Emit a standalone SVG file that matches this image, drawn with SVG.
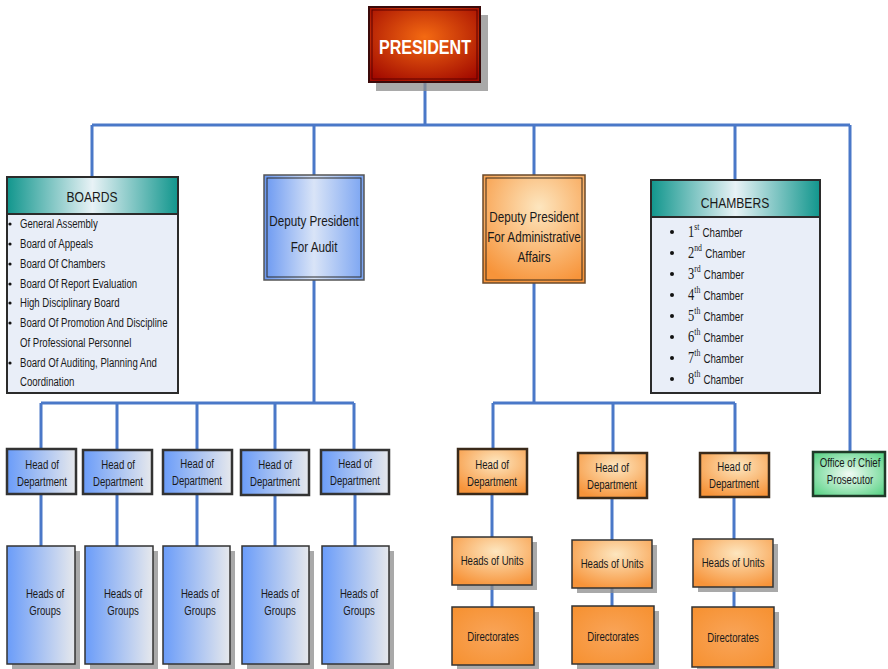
<svg xmlns="http://www.w3.org/2000/svg" width="888" height="669" viewBox="0 0 888 669">
<style>
text{font-family:"Liberation Sans",Arial,sans-serif;fill:#1a1a1a}
.c{text-anchor:middle;transform-box:fill-box;transform-origin:center;transform:scaleX(.78)}
.l{transform-box:fill-box;transform-origin:left center;transform:scaleX(.78)}
.conn{stroke:#4a78c8;stroke-width:3;fill:none}
.sh{fill:#8c8c8c;opacity:.75}
.bd{stroke:#2b2b2b;stroke-width:2}
.lst{font-size:12.3px}
.hd{font-size:12.3px}
.ser{font-family:"Liberation Serif","Times New Roman",serif}
</style>
<defs>
<linearGradient id="gBlue" x1="0" x2="1" y1="0" y2="0"><stop offset="0" stop-color="#6a9cf9"/><stop offset="1" stop-color="#e6e8ec"/></linearGradient>
<linearGradient id="gBlueD" x1="0" x2="1" y1="0" y2="0"><stop offset="0" stop-color="#6a98f2"/><stop offset=".5" stop-color="#d9e4f7"/><stop offset="1" stop-color="#7aa4f2"/></linearGradient>
<linearGradient id="gTeal" x1="0" x2="1" y1="0" y2="0"><stop offset="0" stop-color="#11968d"/><stop offset=".5" stop-color="#e8f2f6"/><stop offset="1" stop-color="#11968d"/></linearGradient>
<radialGradient id="gOr" cx=".55" cy=".3" r=".75"><stop offset="0" stop-color="#fde6bf"/><stop offset="1" stop-color="#f7943a"/></radialGradient>
<radialGradient id="gOr2" cx=".5" cy=".5" r=".7"><stop offset="0" stop-color="#f9a55a"/><stop offset="1" stop-color="#f6902f"/></radialGradient>
<radialGradient id="gRed" cx=".5" cy=".4" r=".7"><stop offset="0" stop-color="#f46a12"/><stop offset="1" stop-color="#a20a00"/></radialGradient>
<radialGradient id="gGreen" cx=".5" cy=".5" r=".7"><stop offset="0" stop-color="#f2fbf5"/><stop offset="1" stop-color="#4fd07e"/></radialGradient>
</defs>

<g id="connectors">
<path class="conn" d="M425 82V125M92 125H850M92 125V177M314 125V175M534 125V175M735 125V180M850 125V452"/>
<path class="conn" d="M314 280V403M41 403H354M41 403V449M117 403V449M197 403V449M275 403V449M354 403V449"/>
<path class="conn" d="M41 494V546M117 494V546M197 494V546M275 494V546M355 494V546"/>
<path class="conn" d="M534 283V403M493 403H735M493 403V449M613 403V453M735 403V453"/>
<path class="conn" d="M492 494V537M612 498V540M734 497V539M492 585V607M612 588V606M734 587V607"/>
</g>

<g id="president">
<rect class="sh" x="376" y="15" width="112" height="76"/>
<rect x="369" y="7" width="111" height="75" fill="url(#gRed)" stroke="#3a0a0a" stroke-width="2"/>
<rect x="372" y="10" width="105" height="69" fill="none" stroke="#5a0000" stroke-width="1"/>
<text x="425" y="54" text-anchor="middle" font-size="21" font-weight="bold" style="fill:#fff" textLength="92" lengthAdjust="spacingAndGlyphs">PRESIDENT</text>
</g>

<g id="boards">
<rect x="7" y="177" width="171" height="216" fill="#e9eef8" class="bd"/>
<rect x="7" y="177" width="171" height="37" fill="url(#gTeal)" class="bd"/>
<text class="c" x="92" y="202" font-size="15.5">BOARDS</text>
<g fill="#111">
<circle cx="10" cy="224" r="1.6"/><circle cx="10" cy="244" r="1.6"/><circle cx="10" cy="264" r="1.6"/><circle cx="10" cy="284" r="1.6"/><circle cx="10" cy="303" r="1.6"/><circle cx="10" cy="323" r="1.6"/><circle cx="10" cy="363" r="1.6"/>
</g>
<text class="lst l" x="20" y="228">General Assembly</text>
<text class="lst l" x="20" y="248">Board of Appeals</text>
<text class="lst l" x="20" y="268">Board Of Chambers</text>
<text class="lst l" x="20" y="288">Board Of Report Evaluation</text>
<text class="lst l" x="20" y="307">High Disciplinary Board</text>
<text class="lst l" x="20" y="327">Board Of Promotion And Discipline</text>
<text class="lst l" x="20" y="347">Of Professional Personnel</text>
<text class="lst l" x="20" y="367">Board Of Auditing, Planning And</text>
<text class="lst l" x="20" y="386">Coordination</text>
</g>

<g id="deputy-audit">
<rect x="264" y="175" width="100" height="105" fill="url(#gBlueD)" stroke="#555" stroke-width="1.5"/>
<rect x="267" y="178" width="94" height="99" fill="none" stroke="#2b2b2b" stroke-width="1"/>
<text class="c" x="314" y="226" font-size="15">Deputy President</text>
<text class="c" x="314" y="252" font-size="15">For Audit</text>
</g>

<g id="deputy-admin">
<rect x="483" y="175" width="102" height="108" fill="url(#gOr)" stroke="#6b4a2a" stroke-width="1.5"/>
<rect x="486" y="178" width="96" height="102" fill="none" stroke="#3a2a1a" stroke-width="1"/>
<text class="c" x="534" y="222" font-size="15">Deputy President</text>
<text class="c" x="534" y="242" font-size="15">For Administrative</text>
<text class="c" x="534" y="262" font-size="15">Affairs</text>
</g>

<g id="chambers">
<rect x="651" y="180" width="169" height="213" fill="#e9eef8" class="bd"/>
<rect x="651" y="180" width="169" height="37" fill="url(#gTeal)" class="bd"/>
<text class="c" x="735" y="208" font-size="15.5">CHAMBERS</text>
<g fill="#111">
<circle cx="672" cy="232" r="2"/><circle cx="672" cy="253" r="2"/><circle cx="672" cy="274" r="2"/><circle cx="672" cy="295" r="2"/><circle cx="672" cy="316" r="2"/><circle cx="672" cy="337" r="2"/><circle cx="672" cy="358" r="2"/><circle cx="672" cy="379" r="2"/>
</g>
<text class="l" x="688" y="237" font-size="12.5"><tspan class="ser" font-size="16">1</tspan><tspan class="ser" font-size="10" dy="-7">st</tspan><tspan dy="7" dx="4">Chamber</tspan></text>
<text class="l" x="688" y="258" font-size="12.5"><tspan class="ser" font-size="16">2</tspan><tspan class="ser" font-size="10" dy="-7">nd</tspan><tspan dy="7" dx="4">Chamber</tspan></text>
<text class="l" x="688" y="279" font-size="12.5"><tspan class="ser" font-size="16">3</tspan><tspan class="ser" font-size="10" dy="-7">rd</tspan><tspan dy="7" dx="4">Chamber</tspan></text>
<text class="l" x="688" y="300" font-size="12.5"><tspan class="ser" font-size="16">4</tspan><tspan class="ser" font-size="10" dy="-7">th</tspan><tspan dy="7" dx="4">Chamber</tspan></text>
<text class="l" x="688" y="321" font-size="12.5"><tspan class="ser" font-size="16">5</tspan><tspan class="ser" font-size="10" dy="-7">th</tspan><tspan dy="7" dx="4">Chamber</tspan></text>
<text class="l" x="688" y="342" font-size="12.5"><tspan class="ser" font-size="16">6</tspan><tspan class="ser" font-size="10" dy="-7">th</tspan><tspan dy="7" dx="4">Chamber</tspan></text>
<text class="l" x="688" y="363" font-size="12.5"><tspan class="ser" font-size="16">7</tspan><tspan class="ser" font-size="10" dy="-7">th</tspan><tspan dy="7" dx="4">Chamber</tspan></text>
<text class="l" x="688" y="384" font-size="12.5"><tspan class="ser" font-size="16">8</tspan><tspan class="ser" font-size="10" dy="-7">th</tspan><tspan dy="7" dx="4">Chamber</tspan></text>
</g>

<g id="hod-audit-1"><rect x="7" y="449" width="69" height="45" fill="url(#gBlue)" stroke="#333" stroke-width="2.5"/><text class="c hd" x="42" y="469">Head of</text><text class="c hd" x="42" y="486">Department</text></g>
<g id="hod-audit-2"><rect x="83" y="450" width="69" height="44" fill="url(#gBlue)" stroke="#333" stroke-width="2.5"/><text class="c hd" x="118" y="469">Head of</text><text class="c hd" x="118" y="486">Department</text></g>
<g id="hod-audit-3"><rect x="163" y="450" width="69" height="44" fill="url(#gBlue)" stroke="#333" stroke-width="2.5"/><text class="c hd" x="197" y="468">Head of</text><text class="c hd" x="197" y="485">Department</text></g>
<g id="hod-audit-4"><rect x="241" y="450" width="68" height="45" fill="url(#gBlue)" stroke="#333" stroke-width="2.5"/><text class="c hd" x="275" y="469">Head of</text><text class="c hd" x="275" y="486">Department</text></g>
<g id="hod-audit-5"><rect x="321" y="450" width="68" height="44" fill="url(#gBlue)" stroke="#333" stroke-width="2.5"/><text class="c hd" x="355" y="468">Head of</text><text class="c hd" x="355" y="485">Department</text></g>

<g id="groups-1"><rect class="sh" x="12" y="551" width="68" height="118"/><rect x="7" y="546" width="68" height="118" fill="url(#gBlue)" stroke="#333" stroke-width="1.5"/><text class="c hd" x="45" y="598">Heads of</text><text class="c hd" x="45" y="615">Groups</text></g>
<g id="groups-2"><rect class="sh" x="90" y="551" width="68" height="118"/><rect x="85" y="546" width="68" height="118" fill="url(#gBlue)" stroke="#333" stroke-width="1.5"/><text class="c hd" x="123" y="598">Heads of</text><text class="c hd" x="123" y="615">Groups</text></g>
<g id="groups-3"><rect class="sh" x="168" y="551" width="67" height="118"/><rect x="163" y="546" width="67" height="118" fill="url(#gBlue)" stroke="#333" stroke-width="1.5"/><text class="c hd" x="200" y="598">Heads of</text><text class="c hd" x="200" y="615">Groups</text></g>
<g id="groups-4"><rect class="sh" x="247" y="551" width="67" height="118"/><rect x="242" y="546" width="67" height="118" fill="url(#gBlue)" stroke="#333" stroke-width="1.5"/><text class="c hd" x="280" y="598">Heads of</text><text class="c hd" x="280" y="615">Groups</text></g>
<g id="groups-5"><rect class="sh" x="327" y="551" width="67" height="118"/><rect x="322" y="546" width="67" height="118" fill="url(#gBlue)" stroke="#333" stroke-width="1.5"/><text class="c hd" x="359" y="598">Heads of</text><text class="c hd" x="359" y="615">Groups</text></g>

<g id="hod-admin-1"><rect x="458" y="449" width="69" height="45" fill="url(#gOr)" stroke="#3a2a1a" stroke-width="2.5"/><text class="c hd" x="492" y="469">Head of</text><text class="c hd" x="492" y="486">Department</text></g>
<g id="hod-admin-2"><rect x="578" y="453" width="69" height="45" fill="url(#gOr)" stroke="#3a2a1a" stroke-width="2.5"/><text class="c hd" x="612" y="472">Head of</text><text class="c hd" x="612" y="489">Department</text></g>
<g id="hod-admin-3"><rect x="700" y="453" width="69" height="44" fill="url(#gOr)" stroke="#3a2a1a" stroke-width="2.5"/><text class="c hd" x="734" y="471">Head of</text><text class="c hd" x="734" y="488">Department</text></g>

<g id="units-1"><rect class="sh" x="457" y="542" width="80" height="48" opacity=".4"/><rect x="452" y="537" width="80" height="48" fill="url(#gOr)" stroke="#333" stroke-width="1.5"/><text class="c hd" x="492" y="565">Heads of Units</text></g>
<g id="units-2"><rect class="sh" x="577" y="545" width="80" height="48" opacity=".4"/><rect x="572" y="540" width="80" height="48" fill="url(#gOr)" stroke="#333" stroke-width="1.5"/><text class="c hd" x="612" y="568">Heads of Units</text></g>
<g id="units-3"><rect class="sh" x="698" y="544" width="80" height="48" opacity=".4"/><rect x="693" y="539" width="80" height="48" fill="url(#gOr)" stroke="#333" stroke-width="1.5"/><text class="c hd" x="733" y="567">Heads of Units</text></g>

<g id="dir-1"><rect class="sh" x="457" y="612" width="82" height="58"/><rect x="452" y="607" width="82" height="58" fill="url(#gOr2)" stroke="#333" stroke-width="1.5"/><text class="c hd" x="493" y="641">Directorates</text></g>
<g id="dir-2"><rect class="sh" x="577" y="611" width="82" height="58"/><rect x="572" y="606" width="82" height="58" fill="url(#gOr2)" stroke="#333" stroke-width="1.5"/><text class="c hd" x="613" y="641">Directorates</text></g>
<g id="dir-3"><rect class="sh" x="697" y="612" width="82" height="58"/><rect x="692" y="607" width="82" height="60" fill="url(#gOr2)" stroke="#333" stroke-width="1.5"/><text class="c hd" x="733" y="642">Directorates</text></g>

<g id="chief-prosecutor"><rect x="813" y="452" width="72" height="44" fill="url(#gGreen)" stroke="#1f3a28" stroke-width="2.5"/><text class="c hd" x="850" y="467">Office of Chief</text><text class="c hd" x="850" y="484">Prosecutor</text></g>
</svg>
